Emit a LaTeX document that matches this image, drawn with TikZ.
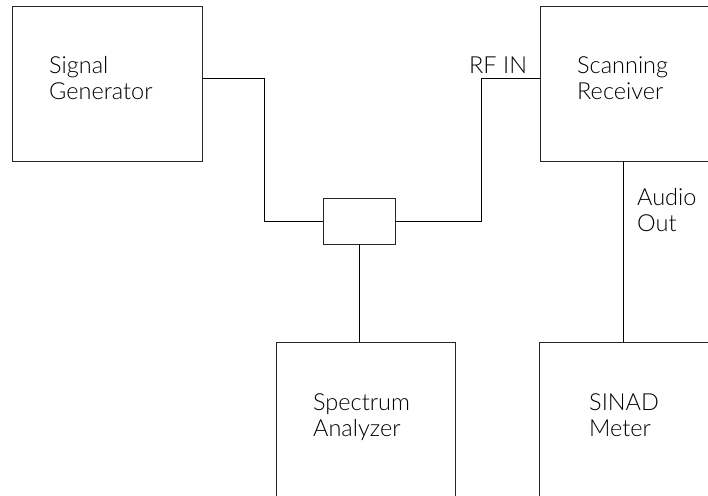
\documentclass[tikz,border=0pt]{standalone}
\usepackage{fontspec}
\newfontfamily\labelfont{Lato Light}
\begin{document}
\begin{tikzpicture}[x=1pt,y=-1pt,
  unit/.style={draw=black!85,line width=0.9pt,minimum width=#1,inner sep=0pt,outer sep=0pt},
  wire/.style={draw=black,line width=0.9pt},
  lbl/.style={anchor=base west,inner sep=0pt,font=\labelfont\fontsize{23.5}{26}\selectfont,align=left}]
\useasboundingbox (0,0) rectangle (708,495);
\clip (0,0) rectangle (708,495);

% instrument boxes (some run off the sheet edge)
\node[unit=190pt,minimum height=155pt] (sg)   at (107,83.5) {};
\node[unit=190pt,minimum height=155pt] (rx)   at (635,83.5) {};
\node[unit=72pt,minimum height=46pt]   (split) at (359,221) {};
\node[unit=179pt,minimum height=170pt] (spec) at (365.5,427) {};
\node[unit=190pt,minimum height=170pt] (sinad) at (634,427) {};

% box captions (anchored on the baseline of the last line)
\node[lbl] (sgt)  at (49,99)   {Signal\\Generator};
\node[lbl] (rxt)  at (577,99)  {Scanning\\Receiver};
\node[lbl] (spt)  at (313,436) {Spectrum\\Analyzer};
\node[lbl] (sit)  at (589,436) {SINAD\\Meter};

% port labels
\node[lbl] (rfin) at (469,74)  {RF IN};
\node[lbl] (aud)  at (637,231) {Audio\\Out};

% routing points
\coordinate (p1) at (264,78);
\coordinate (p2) at (481,78);
\coordinate (ao) at (623,0);

% connections
\draw[wire] (sg.east |- p1) -- (p1) |- (split.west);
\draw[wire] (split.east) -| (p2) -- (rx.west |- p2);
\draw[wire] (split.south) -- (split.south |- spec.north);
\draw[wire] (rx.south -| ao) -- (sinad.north -| ao);
\end{tikzpicture}
\end{document}
